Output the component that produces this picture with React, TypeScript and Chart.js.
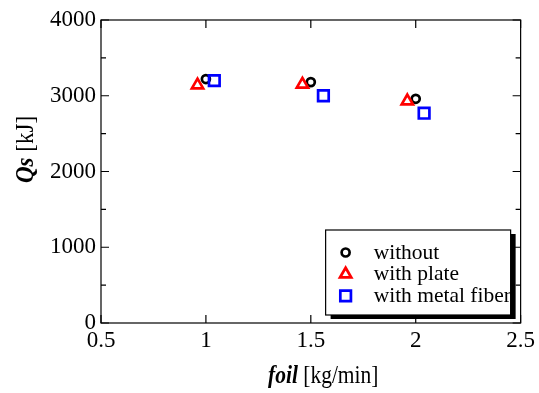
import React, { useEffect, useRef } from "react";
import { Chart, registerables } from "chart.js";

Chart.register(...registerables);

// ---- data ----
const seriesLabels = ["without", "with plate", "with metal fiber"];
const seriesColors = ["#000000", "#ff0000", "#0000ff"];
const seriesStyles = ["circle", "triangle", "rect"];
const withoutX = [1.0, 1.5, 2.0];
const withoutY = [3220, 3180, 2960];
const plateX = [0.96, 1.46, 1.96];
const plateY = [3140, 3150, 2930];
const fiberX = [1.04, 1.56, 2.04];
const fiberY = [3200, 3000, 2770];

const xMin = 0.5;
const xMax = 2.5;
const xStep = 0.5;
const yMin = 0;
const yMax = 4000;
const yStep = 1000;
const yMinorStep = 500;

const xTitleBold = "foil";
const xTitleRest = " [kg/min]";
const yTitleBold = "Qs";
const yTitleRest = " [kJ]";

const FONT = "'Liberation Serif', 'Times New Roman', serif";
const markerRadius = [4, 6.5, 7.5];
const markerWidth = 2.7;

function toPoints(xs: number[], ys: number[]) {
  return xs.map((x, i) => ({ x, y: ys[i] }));
}

function drawMarker(ctx: CanvasRenderingContext2D, style: string, x: number, y: number, r: number) {
  ctx.beginPath();
  if (style === "circle") {
    ctx.arc(x, y, r, 0, Math.PI * 2);
  } else if (style === "triangle") {
    ctx.moveTo(x, y - r);
    ctx.lineTo(x + Math.sin((2 * Math.PI) / 3) * r, y - Math.cos((2 * Math.PI) / 3) * r);
    ctx.lineTo(x + Math.sin((4 * Math.PI) / 3) * r, y - Math.cos((4 * Math.PI) / 3) * r);
    ctx.closePath();
  } else {
    const s = Math.SQRT1_2 * r;
    ctx.rect(x - s, y - s, 2 * s, 2 * s);
  }
  ctx.stroke();
}

const decorPlugin = {
  id: "decor",
  afterDraw(chart: any) {
    const ctx: CanvasRenderingContext2D = chart.ctx;
    const { left, right, top, bottom } = chart.chartArea;
    const xs = chart.scales.x;
    const ys = chart.scales.y;
    ctx.save();
    // frame
    ctx.strokeStyle = "#000";
    ctx.lineWidth = 1.2;
    ctx.strokeRect(left, top, right - left, bottom - top);
    // y ticks
    for (let v = yMin; v <= yMax; v += yMinorStep) {
      const py = ys.getPixelForValue(v);
      const len = v % yStep === 0 ? 8 : 5;
      ctx.beginPath();
      ctx.moveTo(left, py);
      ctx.lineTo(left + len, py);
      ctx.moveTo(right, py);
      ctx.lineTo(right - len, py);
      ctx.stroke();
    }
    // x ticks
    for (let v = xMin; v <= xMax + 1e-9; v += xStep) {
      const px = xs.getPixelForValue(v);
      ctx.beginPath();
      ctx.moveTo(px, bottom);
      ctx.lineTo(px, bottom - 8);
      ctx.moveTo(px, top);
      ctx.lineTo(px, top + 8);
      ctx.stroke();
    }

    // x title (slightly tall glyphs as in the reference)
    ctx.fillStyle = "#000";
    ctx.textBaseline = "alphabetic";
    ctx.textAlign = "left";
    ctx.save();
    ctx.translate(268, 383);
    ctx.scale(1, 1.15);
    ctx.font = `italic bold 21.5px ${FONT}`;
    ctx.fillText(xTitleBold, 0, 0);
    const w1 = ctx.measureText(xTitleBold).width;
    ctx.font = `21.5px ${FONT}`;
    ctx.fillText(xTitleRest, w1, 0);
    ctx.restore();

    // y title
    ctx.save();
    ctx.translate(33, 183);
    ctx.rotate(-Math.PI / 2);
    ctx.scale(1, 1.1);
    ctx.font = `italic bold 23px ${FONT}`;
    ctx.fillText(yTitleBold, 0, 0);
    const w2 = ctx.measureText(yTitleBold).width;
    ctx.font = `23px ${FONT}`;
    ctx.fillText(yTitleRest, w2, 0);
    ctx.restore();

    // legend
    const bx = right - 195;
    const by = bottom - 93;
    const bw = 185;
    const bh = 85;
    ctx.fillStyle = "#000";
    ctx.fillRect(bx + 5, by + 4, bw, bh);
    ctx.fillStyle = "#fff";
    ctx.fillRect(bx, by, bw, bh);
    ctx.strokeStyle = "#000";
    ctx.lineWidth = 1.2;
    ctx.strokeRect(bx, by, bw, bh);
    ctx.font = `21.5px ${FONT}`;
    seriesLabels.forEach((label, i) => {
      const base = by + 28.5 + i * 21.7;
      ctx.strokeStyle = seriesColors[i];
      ctx.lineWidth = markerWidth;
      drawMarker(ctx, seriesStyles[i], bx + 20, base - 6, markerRadius[i]);
      ctx.fillStyle = "#000";
      ctx.fillText(label, bx + 48, base);
    });
    ctx.restore();
  },
};

export default function App() {
  const ref = useRef<HTMLCanvasElement | null>(null);
  useEffect(() => {
    if (!ref.current) return;
    const seriesX = [withoutX, plateX, fiberX];
    const seriesY = [withoutY, plateY, fiberY];
    const chart = new Chart(ref.current, {
      type: "scatter",
      data: {
        datasets: seriesLabels.map((label, i) => ({
          label,
          data: toPoints(seriesX[i], seriesY[i]),
          pointStyle: seriesStyles[i] as any,
          pointRadius: markerRadius[i],
          pointHoverRadius: markerRadius[i],
          borderColor: seriesColors[i],
          backgroundColor: "rgba(0,0,0,0)",
          borderWidth: markerWidth,
          order: 2 - i,
        })),
      },
      options: {
        animation: false,
        responsive: true,
        maintainAspectRatio: false,
        layout: { padding: { top: 20, right: 16, left: 0, bottom: 0 } },
        plugins: {
          legend: { display: false },
          tooltip: { enabled: false },
        },
        scales: {
          x: {
            type: "linear",
            min: xMin,
            max: xMax,
            ticks: {
              stepSize: xStep,
              color: "#000",
              font: { family: FONT, size: 23 },
              padding: 4,
              maxRotation: 0,
              autoSkip: false,
              callback: (v: any) => String(Number(v)),
            },
            grid: { display: false, drawTicks: false },
            border: { display: false },
            afterFit: (s: any) => {
              s.height = 70;
            },
          },
          y: {
            type: "linear",
            min: yMin,
            max: yMax,
            ticks: {
              stepSize: yStep,
              color: "#000",
              font: { family: FONT, size: 23 },
              padding: 5,
              callback: (v: any) => String(Number(v)),
            },
            grid: { display: false, drawTicks: false },
            border: { display: false },
            afterFit: (s: any) => {
              s.width = 101;
            },
          },
        },
      },
      plugins: [decorPlugin],
    });
    return () => chart.destroy();
  }, []);
  return (
    <div style={{ position: "fixed", left: 0, top: 0, width: 539, height: 393, background: "#fff" }}>
      <canvas ref={ref} />
    </div>
  );
}
